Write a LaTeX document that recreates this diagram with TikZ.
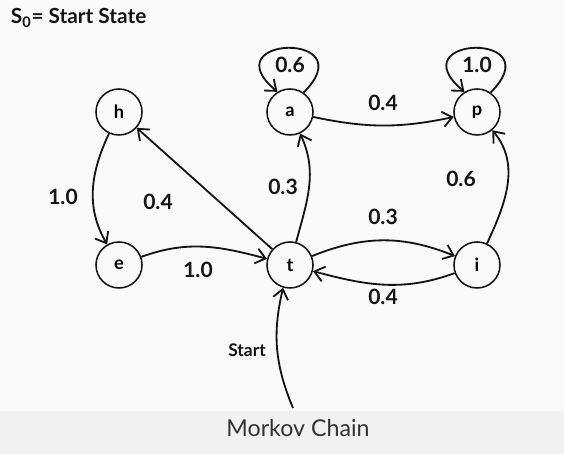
\documentclass[tikz,border=0pt]{standalone}
\usepackage{fontspec}
\setmainfont{Lato}
\usetikzlibrary{arrows.meta}

\definecolor{bgmain}{RGB}{250,250,250}
\definecolor{bgband}{RGB}{241,241,241}
\definecolor{capgray}{RGB}{51,51,51}
\definecolor{ink}{RGB}{20,20,20}

\tikzset{
  state/.style={circle, draw=ink, line width=1.1pt, minimum size=1.15cm, inner sep=0pt,
    font=\fontsize{13}{15}\selectfont\bfseries},
  prob/.style={text=ink, font=\fontsize{15}{17}\selectfont\bfseries},
  trans/.style={draw=ink, line width=1.3pt, -{Straight Barb[length=2.4mm,width=3.8mm]}},
}

\begin{document}
\begin{tikzpicture}

% background and caption band
\fill [bgmain] (0,0) rectangle (14.1,11.35);
\fill [bgband] (0,0) rectangle (14.1,1.075);
\useasboundingbox (0,0) rectangle (14.1,11.35);

\node [anchor=west, text=ink, font=\fontsize{14.8}{17}\selectfont\bfseries] (title) at (0.15,10.9) {S\textsubscript{0}= Start State};
\node [text=capgray, font=\fontsize{16.5}{19}\selectfont] (caption) at (7.45,0.65) {Morkov Chain};

% states
\node [state] (h) at (2.975,8.55) {h};
\node [state] (a) at (7.25,8.55) {a};
\node [state] (p) at (11.925,8.55) {p};
\node [state] (e) at (2.975,4.725) {e};
\node [state] (t) at (7.25,4.725) {t};
\node [state] (i) at (11.925,4.725) {i};
\coordinate (s0) at (7.325,1.15);

% transitions
\draw [trans] (a.55) to [out=45, in=140, looseness=8.5] (a.122);
\draw [trans] (p.55) to [out=45, in=140, looseness=8.5] (p.122);
\draw [trans] (a) to [out=-12, in=192] (p);
\draw [trans] (h) to [out=245, in=120] (e);
\draw [trans] (e) to [out=20, in=165] (t);
\draw [trans] (t) -- (h);
\draw [trans] (t) to [out=75, in=-65] (a);
\draw [trans] (t) to [out=22, in=158] (i);
\draw [trans] (i) to [out=200, in=-15] (t);
\draw [trans] (i) to [out=65, in=-50] (p);
\draw [trans] (s0) to [bend left=18] (t);

% probabilities
\node [prob] (paa) at (7.25,9.725) {0.6};
\node [prob] (ppp) at (11.925,9.725) {1.0};
\node [prob] (pap) at (9.575,8.775) {0.4};
\node [prob] (phe) at (1.575,6.425) {1.0};
\node [prob] (pth) at (3.95,6.3) {0.4};
\node [prob] (pta) at (7.075,6.675) {0.3};
\node [prob] (pti) at (9.575,5.925) {0.3};
\node [prob] (pit) at (9.575,3.925) {0.4};
\node [prob] (pip) at (11.525,6.875) {0.6};
\node [prob] (pet) at (4.95,4.6) {1.0};
\node [text=ink, font=\fontsize{12.4}{14}\selectfont\bfseries] (pstart) at (6.175,2.6) {Start};

\end{tikzpicture}
\end{document}
